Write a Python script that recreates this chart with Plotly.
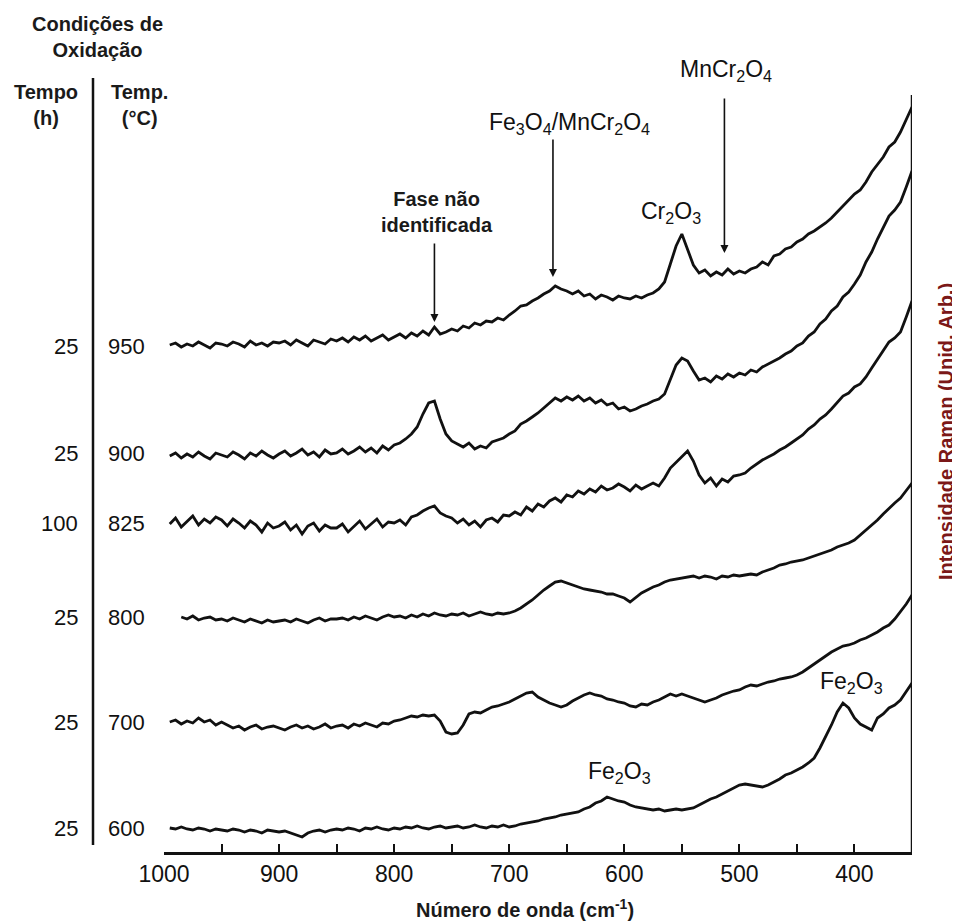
import plotly.graph_objects as go

# Sampling grid (cm-1), 995 -> 350 in steps of 5
WAVENUMBER = list(range(995, 345, -5))

# Offset (stacked) Raman intensities, arbitrary units
S950 = [507, 509, 505, 508, 506, 510, 507, 504, 509, 508,
        506, 510, 508, 505, 511, 507, 509, 506, 510, 509,
        511, 507, 512, 509, 506, 512, 510, 508, 513, 511,
        514, 510, 515, 512, 516, 511, 514, 517, 512, 515,
        518, 514, 519, 516, 521, 517, 525, 518, 520, 523,
        521, 526, 524, 529, 527, 531, 530, 534, 532, 537,
        541, 546, 547, 551, 554, 558, 561, 566, 563, 561,
        558, 561, 556, 558, 553, 557, 555, 552, 556, 554,
        553, 556, 554, 557, 559, 563, 570, 588, 606, 618,
        603, 587, 579, 582, 576, 580, 577, 583, 578, 581,
        579, 583, 585, 590, 587, 596, 598, 603, 605, 610,
        613, 618, 621, 625, 629, 634, 640, 645, 652, 658,
        662, 670, 680, 688, 695, 705, 710, 720, 732, 745]

S900 = [396, 399, 394, 398, 395, 400, 396, 393, 399, 397,
        395, 400, 397, 393, 399, 396, 401, 397, 394, 398,
        401, 396, 399, 403, 397, 400, 395, 402, 398, 399,
        403, 398, 401, 405, 400, 404, 399, 406, 402, 407,
        409, 413, 418, 425, 438, 449, 451, 433, 418, 411,
        408, 405, 409, 403, 406, 404, 410, 412, 414, 418,
        421, 428, 431, 435, 439, 444, 449, 454, 451, 455,
        452, 456, 451, 454, 449, 452, 447, 449, 443, 445,
        441, 443, 446, 448, 451, 453, 458, 472, 487, 494,
        491, 481, 472, 474, 470, 476, 473, 478, 475, 479,
        477, 482, 480, 485, 488, 491, 494, 498, 501, 506,
        509, 516, 520, 528, 533, 541, 546, 555, 560, 568,
        577, 590, 600, 613, 625, 636, 642, 650, 665, 681]

S825 = [328, 334, 325, 331, 336, 327, 333, 329, 335, 332,
        326, 333, 329, 324, 331, 327, 320, 329, 324, 326,
        330, 322, 327, 318, 326, 329, 321, 327, 324, 324,
        328, 320, 326, 331, 323, 328, 333, 325, 330, 329,
        332, 327, 335, 337, 341, 344, 346, 339, 336, 334,
        329, 333, 327, 331, 325, 332, 334, 330, 337, 336,
        340, 337, 345, 341, 348, 345, 351, 354, 350, 357,
        355, 361, 358, 363, 360, 366, 362, 364, 368, 365,
        361, 367, 363, 366, 369, 366, 374, 384, 390, 395,
        401, 391, 377, 369, 374, 366, 373, 370, 376, 377,
        379, 384, 388, 392, 395, 398, 402, 405, 409, 413,
        417, 423, 427, 433, 437, 443, 449, 456, 459, 465,
        468, 475, 484, 493, 502, 510, 514, 520, 535, 551]

S800 = [None, None, 235, 233, 236, 232, 234, 235, 232, 233,
        231, 234, 232, 230, 233, 231, 229, 232, 230, 231,
        232, 230, 233, 231, 229, 232, 234, 231, 233, 233,
        234, 232, 235, 233, 236, 234, 232, 235, 237, 235,
        236, 234, 237, 235, 238, 236, 239, 237, 236, 238,
        237, 239, 236, 238, 240, 238, 237, 239, 238, 239,
        241, 244, 248, 252, 257, 262, 266, 270, 271, 269,
        267, 265, 263, 262, 261, 260, 258, 258, 256, 254,
        250, 255, 259, 262, 265, 267, 270, 272, 273, 274,
        275, 276, 274, 276, 275, 273, 276, 275, 277, 276,
        277, 278, 277, 280, 282, 284, 287, 288, 290, 291,
        292, 294, 296, 298, 300, 302, 305, 307, 309, 312,
        317, 322, 327, 332, 338, 344, 349, 354, 361, 369]

S700 = [130, 132, 128, 131, 129, 134, 130, 132, 127, 130,
        127, 124, 126, 122, 125, 127, 123, 125, 126, 124,
        122, 125, 127, 124, 126, 123, 125, 128, 124, 126,
        127, 124, 128, 126, 129, 127, 125, 129, 128, 131,
        132, 134, 136, 135, 137, 136, 137, 131, 120, 118,
        119, 127, 138, 140, 139, 142, 145, 146, 148, 150,
        153, 156, 159, 160, 155, 152, 149, 147, 145, 147,
        151, 154, 157, 159, 157, 156, 153, 152, 150, 149,
        146, 145, 148, 147, 150, 152, 155, 158, 156, 158,
        156, 154, 152, 150, 152, 154, 157, 159, 161, 162,
        165, 167, 166, 168, 170, 171, 173, 174, 175, 177,
        180, 184, 188, 192, 196, 200, 203, 206, 207, 209,
        212, 214, 217, 220, 224, 227, 233, 240, 248, 257]

S600 = [24, 23, 25, 23, 22, 24, 23, 21, 23, 22,
        21, 23, 22, 20, 22, 21, 19, 22, 21, 20,
        21, 19, 17, 15, 19, 21, 22, 20, 22, 23,
        22, 24, 23, 21, 24, 23, 25, 23, 22, 24,
        23, 25, 24, 26, 24, 23, 25, 26, 24, 25,
        26, 24, 25, 27, 25, 24, 26, 25, 27, 25,
        26, 28, 29, 30, 31, 33, 34, 35, 37, 38,
        39, 40, 43, 45, 49, 51, 55, 53, 51, 50,
        47, 45, 44, 43, 42, 43, 41, 42, 43, 42,
        43, 44, 47, 50, 53, 55, 58, 61, 64, 67,
        68, 67, 66, 65, 67, 70, 73, 77, 79, 82,
        85, 89, 94, 104, 115, 127, 140, 149, 144, 134,
        128, 125, 122, 134, 138, 144, 147, 152, 160, 169]

SERIES = [S950, S900, S825, S800, S700, S600]
TEMPO_H = ["25", "25", "100", "25", "25", "25"]
TEMP_C = ["950", "900", "825", "800", "700", "600"]
LABEL_Y = [506, 399, 329, 235, 130, 24]

TICK_VALS = [1000, 900, 800, 700, 600, 500, 400]
TICK_TEXT = ["1000", "900", "800", "700", "600", "500", "400"]

FONT = "Liberation Sans"
INK = "#111111"

fig = go.Figure()
for s in SERIES:
    fig.add_trace(go.Scatter(x=WAVENUMBER, y=s, mode="lines",
                             line=dict(color=INK, width=2.8),
                             connectgaps=False, showlegend=False,
                             hoverinfo="skip"))

# The page draws the figure 8px in from the top-left corner
OFF = 8
FIG_W, FIG_H = 960 - OFF, 924 - OFF
PLOT_LEFT, PLOT_RIGHT, PLOT_BOTTOM = 164, 912, 852   # page pixels
L = PLOT_LEFT - OFF
R = FIG_W - (PLOT_RIGHT - OFF)
B = FIG_H - (PLOT_BOTTOM - OFF)
T = 0
PW = PLOT_RIGHT - PLOT_LEFT
PH = PLOT_BOTTOM - OFF
Y_TOP = PH  # data value at top of plot area


def px(xpix):
    return (xpix - PLOT_LEFT) / PW


def py(ypix):
    return (PLOT_BOTTOM - ypix) / PH


ann = []
num = dict(family=FONT, size=22, color=INK)
for t, c, yv in zip(TEMPO_H, TEMP_C, LABEL_Y):
    ann.append(dict(x=px(80), y=yv, xref="paper", yref="y", text=t,
                    xanchor="right", yanchor="middle", showarrow=False, font=num))
    ann.append(dict(x=px(106), y=yv, xref="paper", yref="y", text=c,
                    xanchor="left", yanchor="middle", showarrow=False, font=num))

bold = dict(family=FONT, size=20, color="#1a1a1a")
ann += [
    dict(x=px(97), y=py(37), xref="paper", yref="paper", text="<b>Condições de<br>Oxidação</b>",
         showarrow=False, xanchor="center", yanchor="middle", font=bold),
    dict(x=px(46), y=py(105), xref="paper", yref="paper", text="<b>Tempo<br>(h)</b>",
         showarrow=False, xanchor="center", yanchor="middle", font=bold),
    dict(x=px(139), y=py(105), xref="paper", yref="paper", text="<b>Temp.<br>(°C)</b>",
         showarrow=False, xanchor="center", yanchor="middle", font=bold),
    dict(x=px(525), y=py(908), xref="paper", yref="paper",
         text="<b>Número de onda (cm<sup>-1</sup>)</b>", showarrow=False,
         xanchor="center", yanchor="middle", font=bold),
    dict(x=px(946), y=py(432), xref="paper", yref="paper",
         text="<b>Intensidade Raman (Unid. Arb.)</b>", textangle=-90, showarrow=False,
         xanchor="center", yanchor="middle",
         font=dict(family=FONT, size=20, color="#7B1818")),
]

chem = dict(family=FONT, size=23, color=INK)
ann += [
    dict(x=763, y=640, text="<b>Fase não<br>identificada</b>", showarrow=False,
         xanchor="center", yanchor="middle", font=bold),
    dict(x=648, y=729, text="Fe<sub>3</sub>O<sub>4</sub>/MnCr<sub>2</sub>O<sub>4</sub>",
         showarrow=False, xanchor="center", yanchor="middle", font=chem),
    dict(x=559, y=640, text="Cr<sub>2</sub>O<sub>3</sub>", showarrow=False,
         xanchor="center", yanchor="middle", font=chem),
    dict(x=512, y=782, text="MnCr<sub>2</sub>O<sub>4</sub>", showarrow=False,
         xanchor="center", yanchor="middle", font=chem),
    dict(x=403, y=170, text="Fe<sub>2</sub>O<sub>3</sub>", showarrow=False,
         xanchor="center", yanchor="middle", font=chem),
    dict(x=604, y=80, text="Fe<sub>2</sub>O<sub>3</sub>", showarrow=False,
         xanchor="center", yanchor="middle", font=chem),
]
# Arrows (tail -> tip)
for (xt, yt, xh, yh) in [(765, 610, 765, 530), (662, 714, 662, 575), (513, 755, 513, 599)]:
    ann.append(dict(x=xh, y=yh, ax=xt, ay=yt, xref="x", yref="y", axref="x", ayref="y",
                    text="", showarrow=True, arrowhead=2, arrowsize=1.0,
                    arrowwidth=1.6, arrowcolor=INK, standoff=0))

shapes = [
    dict(type="line", xref="x", yref="y", x0=350, x1=350, y0=0, y1=757,
         line=dict(color=INK, width=2.5)),
    dict(type="line", xref="paper", yref="y", x0=px(93), x1=px(93), y0=7, y1=774,
         line=dict(color=INK, width=2.5)),
]

fig.update_layout(
    width=FIG_W, height=FIG_H,
    margin=dict(l=L, r=R, t=T, b=B),
    paper_bgcolor="white", plot_bgcolor="white",
    annotations=ann, shapes=shapes,
    xaxis=dict(range=[1000, 350], tickvals=TICK_VALS, ticktext=TICK_TEXT,
               ticks="inside", ticklen=8, tickwidth=2, tickcolor=INK,
               showline=True, linewidth=2.5, linecolor=INK,
               showgrid=False, zeroline=False,
               tickfont=dict(family=FONT, size=23, color=INK),
               minor=dict(ticks="inside", ticklen=8, tickwidth=2, tickcolor=INK,
                          dtick=50, tick0=0, showgrid=False)),
    yaxis=dict(range=[0, Y_TOP], visible=False, showgrid=False, zeroline=False),
)

fig.write_html("out.html")
